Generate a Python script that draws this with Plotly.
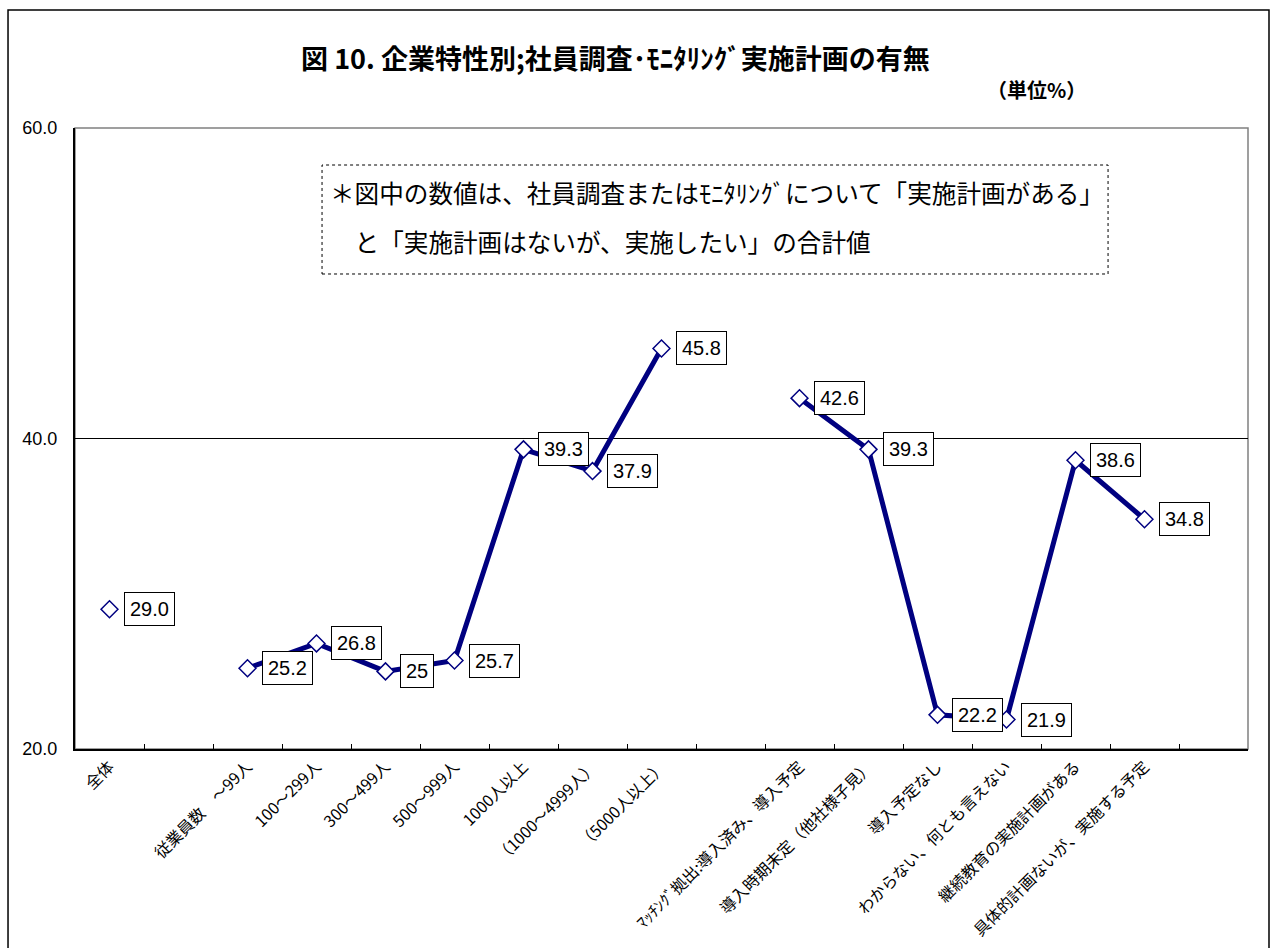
import plotly.graph_objects as go

categories = [
    "全体", " ", "従業員数　～99人", "100～299人", "300～499人", "500～999人",
    "1000人以上", "（1000～4999人）", "（5000人以上）", "  ",
    "ﾏｯﾁﾝｸﾞ拠出:導入済み、導入予定", "導入時期未定（他社様子見）", "導入予定なし",
    "わからない、何とも言えない", "継続教育の実施計画がある", "具体的計画ないが、実施する予定", "   ",
]
values = [29.0, None, 25.2, 26.8, 25.0, 25.7, 39.3, 37.9, 45.8, None,
          42.6, 39.3, 22.2, 21.9, 38.6, 34.8, None]
value_labels = ["29.0", None, "25.2", "26.8", "25", "25.7", "39.3", "37.9", "45.8", None,
                "42.6", "39.3", "22.2", "21.9", "38.6", "34.8", None]
y_ticks = [20, 40, 60]
y_ticktext = ["20.0", "40.0", "60.0"]

title_text = "図 10. 企業特性別;社員調査･ﾓﾆﾀﾘﾝｸﾞ実施計画の有無"
unit_text = "（単位%）"
note_line1 = "＊図中の数値は、社員調査またはﾓﾆﾀﾘﾝｸﾞについて「実施計画がある」"
note_line2 = "　と「実施計画はないが、実施したい」の合計値"

JP = "Noto Sans CJK JP"
NUM = "Liberation Sans, Arial, Noto Sans CJK JP"
NAVY = "#000080"

fig = go.Figure()
fig.add_trace(go.Scatter(
    x=categories, y=values, mode="lines+markers",
    connectgaps=False,
    line=dict(color=NAVY, width=5),
    marker=dict(symbol="diamond", size=13, color="white",
                line=dict(color=NAVY, width=1.5)),
    hoverinfo="x+y", showlegend=False,
))

annotations = []
for c, v, t in zip(categories, values, value_labels):
    if v is None:
        continue
    annotations.append(dict(
        x=c, y=v, xref="x", yref="y", text=t, showarrow=False,
        xanchor="left", yanchor="middle", xshift=14,
        font=dict(family=NUM, size=20, color="black"),
        bgcolor="white", bordercolor="black", borderwidth=1, borderpad=5,
    ))

annotations += [
    dict(x=0.4612, y=1.1143, xref="paper", yref="paper", text="<b>" + title_text + "</b>",
         showarrow=False, xanchor="center", yanchor="middle",
         font=dict(family=JP, size=27, color="black")),
    dict(x=0.8193, y=1.0612, xref="paper", yref="paper", text="<b>" + unit_text + "</b>",
         showarrow=False, xanchor="center", yanchor="middle",
         font=dict(family=JP, size=20, color="black")),
    dict(x=0.2157, y=0.8969, xref="paper", yref="paper", text=note_line1,
         showarrow=False, xanchor="left", yanchor="middle",
         font=dict(family=JP, size=24.6, color="black")),
    dict(x=0.2157, y=0.8180, xref="paper", yref="paper", text=note_line2,
         showarrow=False, xanchor="left", yanchor="middle",
         font=dict(family=JP, size=24.6, color="black")),
]

shapes = [
    # outer chart border
    dict(type="rect", xref="paper", yref="paper", x0=-0.0571, x1=1.0179, y0=-0.40, y1=1.1900,
         line=dict(color="black", width=1.5), layer="below"),
    # plot area frame (gray)
    dict(type="rect", xref="paper", yref="paper", x0=0, x1=1, y0=0, y1=1,
         line=dict(color="#808080", width=1.5), layer="below"),
    # note box
    dict(type="rect", xref="paper", yref="paper", x0=0.2106, x1=0.8807, y0=0.7649, y1=0.9404,
         line=dict(color="black", width=1, dash="dot"), fillcolor="white", layer="below"),
]

fig.update_layout(
    width=1277, height=948, autosize=False,
    margin=dict(l=75, r=29, t=128, b=199, pad=0),
    paper_bgcolor="white", plot_bgcolor="white",
    annotations=annotations, shapes=shapes,
    xaxis=dict(
        type="category", categoryorder="array", categoryarray=categories,
        range=[-0.5, len(categories) - 0.5], automargin=False,
        tickson="boundaries", ticks="inside", ticklen=5, tickcolor="black", tickwidth=1,
        tickangle=-45, tickfont=dict(family=JP, size=16, color="black"),
        showline=True, linecolor="black", linewidth=2,
        showgrid=False, zeroline=False,
    ),
    yaxis=dict(
        range=[20, 60], tickvals=y_ticks, ticktext=y_ticktext, automargin=False,
        ticks="", tickfont=dict(family=NUM, size=18, color="black"),
        ticklabelstandoff=12,
        showline=True, linecolor="black", linewidth=2,
        showgrid=True, gridcolor="black", gridwidth=1, zeroline=False,
    ),
)

fig.write_html("out.html")
